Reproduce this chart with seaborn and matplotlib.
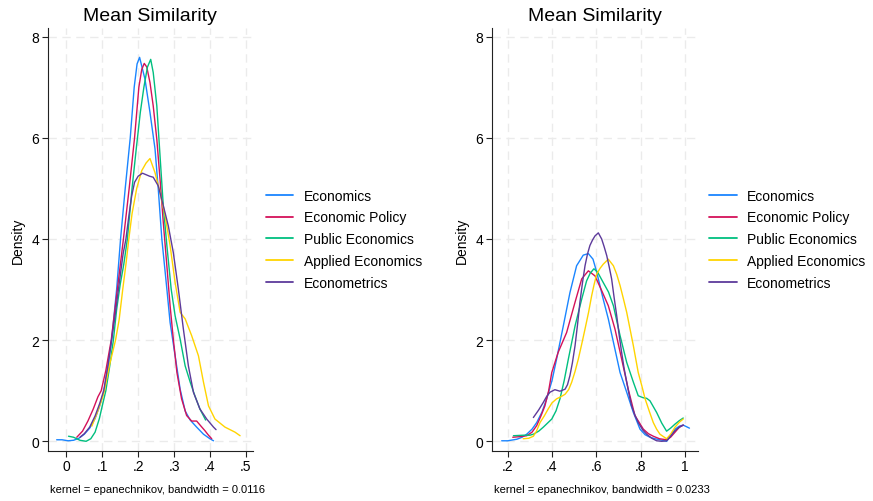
import numpy as np
import pandas as pd
import matplotlib
matplotlib.use("Agg")
import matplotlib.pyplot as plt
import seaborn as sns

# Series names and colours
series_names = ["Economics", "Economic Policy", "Public Economics",
                "Applied Economics", "Econometrics"]
series_colors = ["#1a85ff", "#d41159", "#00bf7f", "#ffd400", "#5d3a9b"]

# ---- Left panel: kernel density estimates (bandwidth 0.0116) ----
econ_x_L = [-0.027, -0.012, 0.005, 0.02, 0.035, 0.05, 0.065, 0.08, 0.092, 0.105, 0.116,
            0.126, 0.14, 0.151, 0.164, 0.178, 0.189, 0.197, 0.204, 0.219, 0.233, 0.247,
            0.256, 0.266, 0.28, 0.289, 0.303, 0.317, 0.331, 0.345, 0.363, 0.382, 0.4, 0.41]
econ_y_L = [0.03, 0.03, 0.01, 0.02, 0.06, 0.14, 0.26, 0.45, 0.68, 1.0, 1.5,
            2.0, 3.0, 4.0, 5.0, 6.0, 7.0, 7.46, 7.59, 7.16, 6.5, 5.78,
            4.99, 4.0, 3.01, 2.35, 1.69, 1.03, 0.6, 0.42, 0.28, 0.14, 0.05, 0.01]

policy_x_L = [0.029, 0.045, 0.06, 0.075, 0.088, 0.097, 0.11, 0.125, 0.142, 0.159, 0.175,
              0.19, 0.202, 0.21, 0.217, 0.224, 0.233, 0.242, 0.252, 0.261, 0.27, 0.28,
              0.289, 0.298, 0.308, 0.321, 0.335, 0.349, 0.363, 0.375, 0.386, 0.396, 0.405]
policy_y_L = [0.08, 0.2, 0.4, 0.64, 0.88, 1.0, 1.4, 2.0, 3.0, 4.0, 5.0,
              6.0, 7.0, 7.35, 7.47, 7.4, 7.09, 6.63, 5.97, 5.18, 4.33, 3.47,
              2.68, 2.02, 1.36, 0.84, 0.51, 0.4, 0.4, 0.3, 0.21, 0.12, 0.05]

public_x_L = [0.006, 0.02, 0.038, 0.055, 0.068, 0.08, 0.092, 0.1, 0.11, 0.12, 0.131,
              0.14, 0.15, 0.16, 0.17, 0.183, 0.195, 0.206, 0.216, 0.226, 0.235, 0.242,
              0.252, 0.261, 0.27, 0.28, 0.292, 0.303, 0.317, 0.331, 0.345, 0.358, 0.372, 0.388]
public_y_L = [0.1, 0.08, 0.02, 0.0, 0.05, 0.18, 0.45, 0.7, 1.0, 1.45, 2.0,
              2.6, 3.1, 3.5, 4.0, 5.0, 5.8, 6.5, 7.0, 7.4, 7.55, 7.29,
              6.63, 5.64, 4.66, 3.87, 3.01, 2.48, 2.02, 1.49, 1.17, 0.9, 0.64, 0.42]

applied_x_L = [0.071, 0.085, 0.1, 0.106, 0.12, 0.137, 0.147, 0.157, 0.166, 0.174, 0.183,
               0.196, 0.21, 0.222, 0.233, 0.247, 0.261, 0.275, 0.289, 0.303, 0.317, 0.331,
               0.349, 0.368, 0.382, 0.396, 0.414, 0.442, 0.47, 0.484]
applied_y_L = [0.3, 0.55, 0.85, 1.0, 1.5, 2.0, 2.4, 3.0, 3.5, 4.0, 4.5,
               5.0, 5.35, 5.5, 5.59, 5.31, 4.92, 4.46, 3.87, 3.14, 2.55, 2.42,
               2.09, 1.69, 1.17, 0.7, 0.44, 0.28, 0.18, 0.11]

metrics_x_L = [0.038, 0.05, 0.065, 0.08, 0.093, 0.104, 0.116, 0.126, 0.136, 0.145, 0.158,
               0.166, 0.175, 0.182, 0.19, 0.2, 0.212, 0.222, 0.232, 0.242, 0.256, 0.27,
               0.284, 0.298, 0.312, 0.326, 0.34, 0.354, 0.372, 0.391, 0.41, 0.417]
metrics_y_L = [0.08, 0.15, 0.28, 0.5, 0.75, 1.0, 1.5, 2.0, 2.5, 3.0, 3.7,
               4.0, 4.5, 4.85, 5.12, 5.24, 5.3, 5.27, 5.24, 5.22, 5.05, 4.66,
               4.26, 3.73, 3.01, 2.22, 1.49, 0.97, 0.64, 0.44, 0.28, 0.23]

# ---- Right panel: kernel density estimates (bandwidth 0.0233) ----
econ_x_R = [0.173, 0.2, 0.241, 0.265, 0.286, 0.31, 0.331, 0.355, 0.376, 0.4, 0.421,
            0.451, 0.481, 0.511, 0.541, 0.564, 0.585, 0.602, 0.631, 0.654, 0.677, 0.707,
            0.737, 0.767, 0.797, 0.82, 0.842, 0.865, 0.887, 0.917, 0.935, 0.955, 0.975,
            0.992, 1.02]
econ_y_R = [0.01, 0.01, 0.04, 0.08, 0.14, 0.24, 0.37, 0.58, 0.84, 1.2, 1.63,
            2.28, 2.94, 3.47, 3.68, 3.71, 3.6, 3.34, 2.81, 2.42, 1.96, 1.36,
            0.97, 0.57, 0.24, 0.13, 0.08, 0.05, 0.03, 0.0, 0.1, 0.24, 0.3,
            0.32, 0.26]

policy_x_R = [0.223, 0.25, 0.286, 0.31, 0.331, 0.35, 0.368, 0.385, 0.399, 0.428, 0.466,
              0.504, 0.534, 0.564, 0.594, 0.624, 0.654, 0.684, 0.714, 0.744, 0.774, 0.812,
              0.835, 0.857, 0.885, 0.917, 0.935, 0.955, 0.975, 0.992]
policy_y_R = [0.08, 0.09, 0.11, 0.18, 0.31, 0.5, 0.7, 1.0, 1.36, 1.76, 2.15,
              2.75, 3.21, 3.37, 3.27, 2.98, 2.68, 2.22, 1.63, 1.03, 0.51, 0.24,
              0.15, 0.1, 0.05, 0.03, 0.08, 0.18, 0.28, 0.32]

public_x_R = [0.226, 0.27, 0.3, 0.316, 0.34, 0.361, 0.38, 0.399, 0.418, 0.436, 0.455,
              0.474, 0.504, 0.534, 0.556, 0.572, 0.589, 0.605, 0.631, 0.655, 0.677, 0.707,
              0.737, 0.767, 0.789, 0.812, 0.827, 0.842, 0.872, 0.895, 0.917, 0.935, 0.955,
              0.975, 0.992]
public_y_R = [0.11, 0.12, 0.12, 0.14, 0.2, 0.28, 0.36, 0.44, 0.6, 0.84, 1.2,
              1.63, 2.28, 2.81, 3.17, 3.32, 3.41, 3.35, 3.14, 2.95, 2.68, 2.09,
              1.56, 1.17, 0.9, 0.86, 0.85, 0.8, 0.57, 0.36, 0.2, 0.26, 0.34,
              0.41, 0.46]

applied_x_R = [0.27, 0.295, 0.316, 0.33, 0.346, 0.365, 0.383, 0.4, 0.421, 0.44, 0.459,
               0.475, 0.489, 0.504, 0.519, 0.534, 0.549, 0.565, 0.579, 0.59, 0.602, 0.617,
               0.631, 0.654, 0.677, 0.692, 0.707, 0.722, 0.737, 0.752, 0.767, 0.789, 0.805,
               0.82, 0.84, 0.857, 0.872, 0.887, 0.917, 0.935, 0.955, 0.975, 0.992]
applied_y_R = [0.05, 0.06, 0.1, 0.2, 0.37, 0.5, 0.64, 0.76, 0.84, 0.88, 0.93,
               1.02, 1.17, 1.38, 1.63, 1.92, 2.22, 2.55, 2.88, 3.1, 3.31, 3.42,
               3.5, 3.6, 3.47, 3.3, 3.08, 2.82, 2.55, 2.22, 1.89, 1.36, 1.1,
               0.84, 0.58, 0.37, 0.24, 0.14, 0.05, 0.14, 0.28, 0.38, 0.44]

metrics_x_R = [0.316, 0.34, 0.361, 0.375, 0.391, 0.413, 0.436, 0.459, 0.47, 0.481, 0.492,
               0.504, 0.515, 0.526, 0.538, 0.549, 0.56, 0.571, 0.583, 0.594, 0.609, 0.624,
               0.635, 0.647, 0.658, 0.669, 0.68, 0.692, 0.703, 0.714, 0.725, 0.737, 0.748,
               0.759, 0.774, 0.789, 0.81, 0.827, 0.85, 0.872, 0.895, 0.917, 0.935, 0.955,
               0.975, 0.992]
metrics_y_R = [0.47, 0.62, 0.77, 0.88, 0.97, 1.02, 0.99, 1.03, 1.12, 1.3, 1.55,
               1.89, 2.3, 2.75, 3.15, 3.47, 3.7, 3.87, 3.98, 4.06, 4.12, 4.0,
               3.85, 3.67, 3.45, 3.21, 2.85, 2.48, 2.1, 1.76, 1.45, 1.17, 0.92,
               0.7, 0.52, 0.37, 0.22, 0.14, 0.06, 0.01, 0.0, 0.01, 0.1, 0.21,
               0.28, 0.32]

# Axis ticks
x_ticks_L = [0, 0.1, 0.2, 0.3, 0.4, 0.5]
x_labels_L = ["0", ".1", ".2", ".3", ".4", ".5"]
x_ticks_R = [0.2, 0.4, 0.6, 0.8, 1.0]
x_labels_R = [".2", ".4", ".6", ".8", "1"]
y_ticks = [0, 2, 4, 6, 8]
y_labels = ["0", "2", "4", "6", "8"]

panel_title = "Mean Similarity"
notes = ["kernel = epanechnikov, bandwidth = 0.0116",
         "kernel = epanechnikov, bandwidth = 0.0233"]


def long_frame(xs, ys):
    parts = []
    for name, x, y in zip(series_names, xs, ys):
        parts.append(pd.DataFrame({"x": x, "y": y, "series": name}))
    return pd.concat(parts, ignore_index=True)


left_df = long_frame([econ_x_L, policy_x_L, public_x_L, applied_x_L, metrics_x_L],
                     [econ_y_L, policy_y_L, public_y_L, applied_y_L, metrics_y_L])
right_df = long_frame([econ_x_R, policy_x_R, public_x_R, applied_x_R, metrics_x_R],
                      [econ_y_R, policy_y_R, public_y_R, applied_y_R, metrics_y_R])

sns.set_theme(style="white")
plt.rcParams["font.family"] = ["Liberation Sans", "DejaVu Sans"]
plt.rcParams["text.color"] = "black"
plt.rcParams["axes.labelcolor"] = "black"

W, H = 873, 502
fig = plt.figure(figsize=(W / 100, H / 100), dpi=100)
fig.patch.set_facecolor("white")


def px_axes(left, top, right, bottom):
    return fig.add_axes([left / W, 1 - bottom / H, (right - left) / W, (bottom - top) / H])


ax_l = px_axes(47.7, 29, 253, 451.7)
ax_r = px_axes(491.7, 29, 698.3, 451.7)

panels = [
    (ax_l, left_df, (-0.052, 0.52), x_ticks_L, x_labels_L, notes[0], 265.7),
    (ax_r, right_df, (0.128, 1.06), x_ticks_R, x_labels_R, notes[1], 709.0),
]

grid_color = "#ebebeb"
for ax, df, xlim, xt, xl, note, leg_x in panels:
    sns.lineplot(data=df, x="x", y="y", hue="series", hue_order=series_names,
                 palette=series_colors, sort=False, estimator=None, units="series",
                 linewidth=1.0, ax=ax)
    ax.set_xlim(*xlim)
    ax.set_ylim(-0.186, 8.17)
    ax.set_xticks(xt)
    ax.set_xticklabels(xl)
    ax.set_yticks(y_ticks)
    ax.set_yticklabels(y_labels)
    for v in xt:
        ax.axvline(v, color=grid_color, lw=1.0, ls=(0, (6, 4)), zorder=0)
    for v in y_ticks:
        ax.axhline(v, color=grid_color, lw=1.0, ls=(0, (6, 4)), zorder=0)
    ax.grid(False)
    for side in ["top", "right"]:
        ax.spines[side].set_visible(False)
    for side in ["left", "bottom"]:
        ax.spines[side].set_color("#222222")
        ax.spines[side].set_linewidth(0.8)
    ax.tick_params(axis="both", direction="out", length=4, width=0.8,
                   color="#222222", labelsize=10, labelcolor="black", pad=2,
                   left=True, bottom=True)
    ax.set_xlabel("")
    ax.set_ylabel("Density", fontsize=10, labelpad=5, color="black")
    ax.set_title(panel_title, fontsize=14, pad=6, color="black")
    sns.move_legend(ax, "center left",
                    bbox_to_anchor=((leg_x - ax.get_position().x0 * W) / (ax.get_position().width * W), 0.5),
                    frameon=False, title=None, fontsize=10, handlelength=2.0,
                    handletextpad=0.75, labelspacing=0.57, borderpad=0, borderaxespad=0)
    leg = ax.get_legend()
    for line in leg.get_lines():
        line.set_linewidth(1.3)
    for text in leg.get_texts():
        text.set_color("black")
    x0 = ax.get_position().x0
    fig.text(x0 + 2.5 / W, 1 - 493 / H, note, fontsize=8, ha="left", va="baseline",
             color="black")

fig.savefig("out.png", dpi=100, facecolor="white")
